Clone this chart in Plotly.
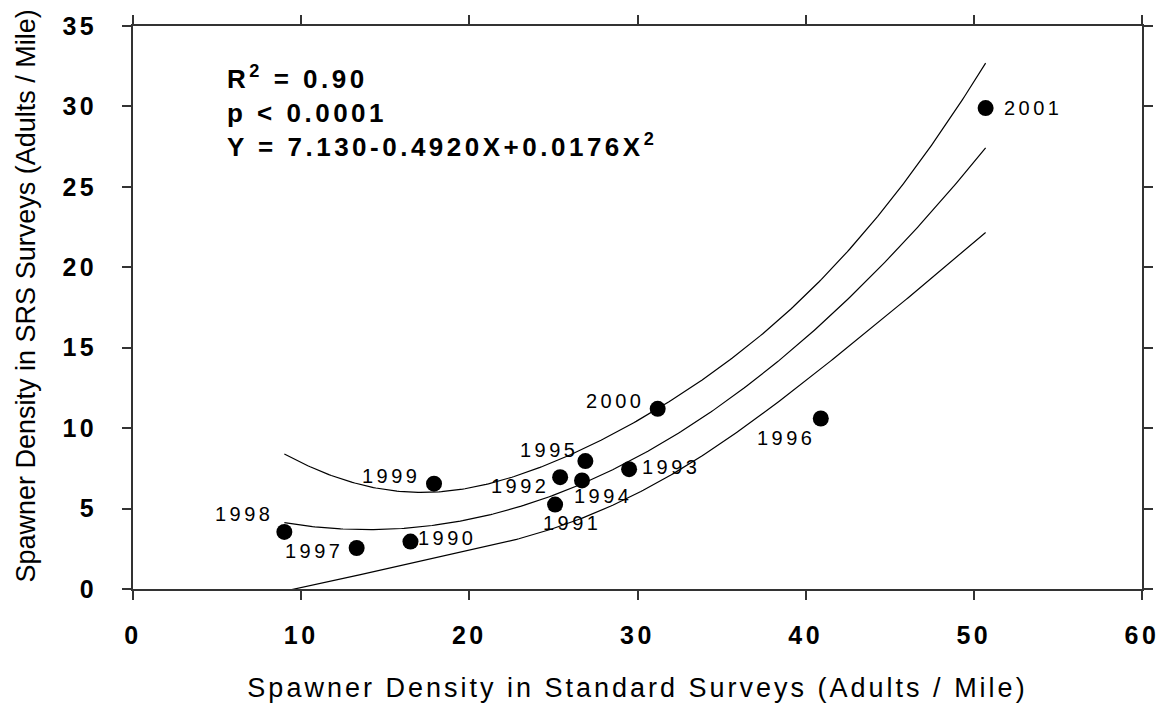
import numpy as np
import plotly.graph_objects as go

# ---- data ----
years = ["1990", "1991", "1992", "1993", "1994", "1995", "1996", "1997", "1998", "1999", "2000", "2001"]
standard_density = [16.5, 25.1, 25.4, 29.5, 26.7, 26.9, 40.9, 13.3, 9.0, 17.9, 31.2, 50.7]
srs_density = [2.95, 5.25, 6.95, 7.45, 6.75, 7.95, 10.6, 2.55, 3.55, 6.55, 11.2, 29.9]

# regression coefficients printed on the chart
coef = [7.130, -0.4920, 0.0176]
stats_text = "R<sup>2</sup> = 0.90<br>p &lt; 0.0001<br>Y = 7.130-0.4920X+0.0176X<sup>2</sup>"
x_ticks = [0, 10, 20, 30, 40, 50, 60]
y_ticks = [0, 5, 10, 15, 20, 25, 30, 35]

# label placement (pixel offsets from each point) – styling only
label_dx = [35, 15, -42, 40, 19, -38, -36, -44, -42, -45, -44, 46]
label_dy = [4, -18, -9, 2, -16, 11, -20, -3, 18, 8, 8, 0]

FONT = "Liberation Sans, Arial, sans-serif"

# ---- regression curve and 95% confidence band ----
x = np.array(standard_density)
y = np.array(srs_density)
X = np.column_stack([np.ones_like(x), x, x ** 2])
b = np.array(coef)
resid = y - X @ b
n = len(x)
s2 = np.sum(resid ** 2) / (n - 3)
XtX_inv = np.linalg.inv(X.T @ X)
xs = np.linspace(x.min(), x.max(), 300)
Xg = np.column_stack([np.ones_like(xs), xs, xs ** 2])
fit = Xg @ b
se = np.sqrt(s2 * np.sum((Xg @ XtX_inv) * Xg, axis=1))
t_crit = 2.262
upper = fit + t_crit * se
lower = fit - t_crit * se

fig = go.Figure()
for curve in (upper, fit, lower):
    fig.add_trace(go.Scatter(x=xs, y=curve, mode="lines",
                             line=dict(color="black", width=1.2),
                             hoverinfo="skip"))
fig.add_trace(go.Scatter(x=standard_density, y=srs_density, mode="markers",
                         marker=dict(color="black", size=16, line=dict(width=0)),
                         text=years))

annotations = [
    dict(text=stats_text, xref="paper", yref="paper", x=0.0910, y=0.942,
         xanchor="left", yanchor="top", align="left", showarrow=False,
         font=dict(family=FONT, size=26, color="black", weight="bold")),
    dict(text="Spawner Density in SRS Surveys (Adults / Mile)", xref="paper", yref="paper",
         x=-0.1065, y=0.5205, xanchor="center", yanchor="middle", textangle=-90,
         showarrow=False, font=dict(family=FONT, size=27, color="black")),
]
for yr, xv, yv, dx, dy in zip(years, standard_density, srs_density, label_dx, label_dy):
    annotations.append(dict(text=yr, x=xv, y=yv, xref="x", yref="y", showarrow=False,
                            xshift=dx + 2, yshift=dy, xanchor="center", yanchor="middle",
                            font=dict(family=FONT, size=20, color="black")))

axis_common = dict(showline=True, linecolor="#333", linewidth=1.5, mirror="ticks",
                   ticks="outside", ticklen=9, tickwidth=1.5, tickcolor="#333",
                   showgrid=False, zeroline=False,
                   tickfont=dict(family=FONT, size=25, color="black", weight="bold"))

fig.update_layout(
    width=1168, height=710,
    margin=dict(l=133, r=21, t=21, b=105),
    paper_bgcolor="white", plot_bgcolor="white",
    showlegend=False,
    annotations=annotations,
    xaxis=dict(range=[0, 60], tickvals=x_ticks, ticklabelstandoff=14,
               title=dict(text="Spawner Density in Standard Surveys (Adults / Mile)",
                          font=dict(family=FONT, size=27, color="black"), standoff=30),
               **axis_common),
    yaxis=dict(range=[0, 35], tickvals=y_ticks, ticklabelstandoff=20, **axis_common),
)

post = """
var s = document.createElement('style');
s.textContent = 'html, body {margin:0; padding:0; overflow:hidden;} ' +
  '.xtick text, .ytick text {letter-spacing:3.5px;} ' +
  '.xtitle {letter-spacing:3px;} ' +
  '.annotation-text {letter-spacing:3.5px;} ' +
  'g.annotation[data-index="0"] .annotation-text {letter-spacing:3.5px;} ' +
  'g.annotation[data-index="1"] .annotation-text {letter-spacing:0px;}';
document.head.appendChild(s);
"""

fig.write_html("out.html", post_script=post, config={"displayModeBar": False})
